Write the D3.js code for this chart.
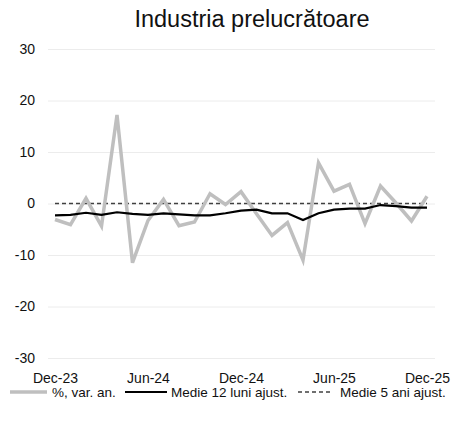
<!DOCTYPE html>
<html>
<head>
<meta charset="utf-8">
<script src="https://cdn.jsdelivr.net/npm/d3@7"></script>
<style>
  body { margin: 0; background: #fff; }
  svg { display: block; font-family: "Liberation Sans", Arial, sans-serif; }
</style>
</head>
<body>
<svg id="chart"></svg>
<script>
// luni, Dec-23 ... Dec-25
const months = ["Dec-23", "Jan-24", "Feb-24", "Mar-24", "Apr-24", "May-24", "Jun-24",
  "Jul-24", "Aug-24", "Sep-24", "Oct-24", "Nov-24", "Dec-24", "Jan-25", "Feb-25",
  "Mar-25", "Apr-25", "May-25", "Jun-25", "Jul-25", "Aug-25", "Sep-25", "Oct-25",
  "Nov-25", "Dec-25"];
const tickMonths = ["Dec-23", "Jun-24", "Dec-24", "Jun-25", "Dec-25"];
const yTicks = [-30, -20, -10, 0, 10, 20, 30];

// %, var. an.
const varAn = [-3.1, -4.1, 1.0, -4.4, 17.2, -11.5, -3.3, 0.8, -4.3, -3.6, 1.9, -0.2,
  2.3, -2.0, -6.2, -3.7, -11.0, 7.9, 2.4, 3.7, -3.9, 3.4, 0.1, -3.4, 1.4];
// Medie 12 luni ajust.
const medie12 = [-2.3, -2.2, -1.8, -2.2, -1.7, -2.0, -2.2, -1.9, -2.1, -2.3, -2.3, -1.9,
  -1.4, -1.2, -1.9, -1.9, -3.2, -1.9, -1.2, -1.0, -1.0, -0.3, -0.5, -0.8, -0.8];
// Medie 5 ani ajust.
const medie5 = [0, 0, 0, 0, 0, 0, 0, 0, 0, 0, 0, 0, 0, 0, 0, 0, 0, 0, 0, 0, 0, 0, 0, 0, 0];

const width = 451, height = 428;
const svg = d3.select("#chart").attr("width", width).attr("height", height);

const x = d3.scalePoint().domain(months).range([55, 427]);
const y = d3.scaleLinear().domain([-30, 30]).range([358, 49]);

// titlu
svg.append("text")
  .attr("x", 252).attr("y", 27)
  .attr("text-anchor", "middle")
  .attr("font-size", 23.5)
  .attr("fill", "#111")
  .text("Industria prelucrătoare");

// axa Y + grila
const gy = svg.append("g")
  .attr("transform", "translate(48,0)")
  .call(d3.axisLeft(y).tickValues(yTicks).tickSize(-387).tickPadding(13).tickFormat(d => String(d)));
gy.select(".domain").remove();
gy.selectAll("line").attr("stroke", "#ececec");
gy.selectAll("text").attr("font-size", 14).attr("fill", "#111").attr("font-family", "Liberation Sans, Arial, sans-serif");

// axa X
const gx = svg.append("g")
  .attr("transform", "translate(0,358)")
  .call(d3.axisBottom(x).tickValues(tickMonths).tickSize(0).tickPadding(15));
gx.select(".domain").remove();
gx.selectAll("text").attr("font-size", 14).attr("fill", "#111").attr("font-family", "Liberation Sans, Arial, sans-serif");

const line = d3.line()
  .x((d, i) => x(months[i]))
  .y(d => y(d));

svg.append("path").datum(medie5)
  .attr("fill", "none").attr("stroke", "#404040")
  .attr("stroke-width", 1.6).attr("stroke-dasharray", "4,3")
  .attr("d", line);

svg.append("path").datum(varAn)
  .attr("fill", "none").attr("stroke", "#bfbfbf")
  .attr("stroke-width", 3.5).attr("stroke-linejoin", "miter")
  .attr("d", line);

svg.append("path").datum(medie12)
  .attr("fill", "none").attr("stroke", "#000")
  .attr("stroke-width", 2.2)
  .attr("d", line);

// legenda
const legend = [
  { label: "%, var. an.", color: "#bfbfbf", w: 3.5, dash: null, x1: 10, x2: 47, tx: 52 },
  { label: "Medie 12 luni ajust.", color: "#000", w: 2.2, dash: null, x1: 125, x2: 167, tx: 171 },
  { label: "Medie 5 ani ajust.", color: "#404040", w: 1.4, dash: "4,3", x1: 298, x2: 330, tx: 340 }
];
const lg = svg.append("g");
legend.forEach(l => {
  lg.append("line")
    .attr("x1", l.x1).attr("x2", l.x2).attr("y1", 392).attr("y2", 392)
    .attr("stroke", l.color).attr("stroke-width", l.w)
    .attr("stroke-dasharray", l.dash);
  lg.append("text")
    .attr("x", l.tx).attr("y", 397)
    .attr("font-size", 13.5).attr("fill", "#111")
    .text(l.label);
});
</script>
</body>
</html>
